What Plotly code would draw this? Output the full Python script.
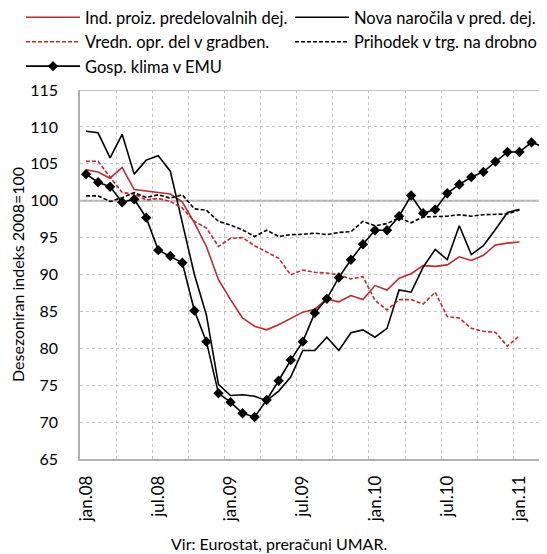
import plotly.graph_objects as go

months = [
    "jan.08", "feb.08", "mar.08", "apr.08", "maj.08", "jun.08", "jul.08", "avg.08", "sep.08", "okt.08", "nov.08", "dec.08",
    "jan.09", "feb.09", "mar.09", "apr.09", "maj.09", "jun.09", "jul.09", "avg.09", "sep.09", "okt.09", "nov.09", "dec.09",
    "jan.10", "feb.10", "mar.10", "apr.10", "maj.10", "jun.10", "jul.10", "avg.10", "sep.10", "okt.10", "nov.10", "dec.10",
    "jan.11", "feb.11", "mar.11",
]
tick_labels = ["jan.08", "jul.08", "jan.09", "jul.09", "jan.10", "jul.10", "jan.11"]

ind_proiz = [104.2, 103.9, 103.05, 104.5, 101.5, 101.3, 101.1, 100.9, 99.8, 97.0, 93.8, 89.3,
             86.6, 84.1, 83.0, 82.5, 83.2, 84.1, 84.9, 85.3, 86.7, 86.3, 87.15, 86.6,
             88.5, 87.9, 89.5, 90.1, 91.2, 91.1, 91.3, 92.4, 91.9, 92.6, 94.0, 94.25, 94.4]
nova_narocila = [109.4, 109.2, 105.8, 109.0, 103.6, 105.5, 106.1, 104.0, 97.0, 90.0, 84.5, 75.1,
                 73.6, 73.7, 73.5, 72.9, 74.2, 76.1, 79.7, 79.7, 81.5, 79.7, 82.1, 82.5,
                 81.5, 82.7, 87.9, 87.6, 91.0, 93.4, 92.0, 96.6, 92.7, 93.9, 96.1, 98.4, 98.85]
vredn_gradben = [105.35, 105.35, 103.2, 101.1, 100.9, 100.1, 100.3, 99.9, 99.0, 97.2, 96.3, 93.8,
                 94.9, 95.0, 93.9, 93.0, 92.2, 89.95, 90.6, 90.3, 90.2, 89.95, 89.4, 89.7,
                 86.5, 85.2, 86.6, 86.6, 86.0, 87.6, 84.3, 84.1, 82.7, 82.3, 82.15, 80.3, 81.7]
prihodek_drobno = [100.65, 100.65, 99.9, 100.4, 101.1, 100.45, 100.8, 100.35, 100.8, 98.9, 98.7, 97.2,
                   96.7, 96.05, 95.15, 96.0, 95.15, 95.4, 95.45, 95.6, 95.4, 95.7, 95.8, 97.2,
                   96.6, 96.9, 97.7, 97.0, 97.8, 97.85, 97.9, 98.1, 97.9, 98.1, 98.2, 98.2, 98.75]
gosp_klima = [103.6, 102.5, 101.9, 99.8, 100.2, 97.7, 93.3, 92.5, 91.6, 85.1, 80.9, 73.9,
              72.7, 71.2, 70.7, 73.0, 75.6, 78.4, 80.9, 84.8, 86.7, 89.6, 92.0, 94.1,
              96.0, 96.0, 97.9, 100.7, 98.3, 98.8, 101.0, 102.2, 103.2, 103.9, 105.3, 106.6,
              106.6, 107.9, 107.3]

RED = "#BE2A2E"
FONT = "Lato"
FS = 17

def xs(vals):
    return list(range(len(vals)))

fig = go.Figure()
fig.add_trace(go.Scatter(x=xs(ind_proiz), y=ind_proiz, mode="lines", name="Ind. proiz. predelovalnih dej.",
                         line=dict(color=RED, width=1.6), text=months[:len(ind_proiz)]))
fig.add_trace(go.Scatter(x=xs(nova_narocila), y=nova_narocila, mode="lines", name="Nova naročila v pred. dej.",
                         line=dict(color="#000000", width=1.6), text=months[:len(nova_narocila)]))
fig.add_trace(go.Scatter(x=xs(vredn_gradben), y=vredn_gradben, mode="lines", name="Vredn. opr. del v gradben.",
                         line=dict(color=RED, width=1.6, dash="4px,2px"), text=months[:len(vredn_gradben)]))
fig.add_trace(go.Scatter(x=xs(prihodek_drobno), y=prihodek_drobno, mode="lines", name="Prihodek v trg. na drobno",
                         line=dict(color="#000000", width=1.6, dash="4px,2px"), text=months[:len(prihodek_drobno)]))
fig.add_trace(go.Scatter(x=xs(gosp_klima), y=gosp_klima, mode="lines+markers", name="Gosp. klima v EMU",
                         line=dict(color="#000000", width=1.6),
                         marker=dict(symbol="diamond", size=8, color="#000000"), text=months[:len(gosp_klima)]))

tickvals = [months.index(t) for t in tick_labels]

fig.update_layout(
    width=547, height=554,
    margin=dict(l=72, r=0, t=82, b=103, autoexpand=False),
    paper_bgcolor="white", plot_bgcolor="white",
    font=dict(family=FONT, size=FS, color="#000000"),
    showlegend=True,
    legend=dict(orientation="h", x=-0.1242, y=1.2439, xanchor="left", yanchor="top",
                entrywidth=200, entrywidthmode="pixels", itemwidth=54,
                font=dict(family=FONT, size=16.5), bgcolor="rgba(0,0,0,0)"),
    xaxis=dict(range=[-0.5, 38.95], tickmode="array", tickvals=tickvals, ticktext=tick_labels,
               tickangle=-90, showgrid=False, zeroline=False, showline=True, linecolor="#b0b0b0", linewidth=1.5,
               ticks="outside", ticklen=8, tickcolor="rgba(0,0,0,0)", automargin=False,
               minor=dict(tick0=2.5, dtick=3, showgrid=True, gridcolor="#c4c4c4", griddash="dot", gridwidth=1),
               tickfont=dict(family=FONT, size=FS)),
    yaxis=dict(range=[65, 115], dtick=5, showgrid=True, gridcolor="#c4c4c4", griddash="dot", gridwidth=1,
               zeroline=False, showline=True, linecolor="#b0b0b0", linewidth=1.5, mirror=False,
               ticks="outside", ticklen=17, tickcolor="rgba(0,0,0,0)", automargin=False,
               tickfont=dict(family=FONT, size=16)),
    shapes=[
        dict(type="line", xref="paper", yref="y", x0=0, x1=1, y0=100, y1=100,
             line=dict(color="#b0b0b0", width=2), layer="below"),
        dict(type="line", xref="paper", yref="y", x0=0, x1=1, y0=115, y1=115,
             line=dict(color="#b0b0b0", width=1.5), layer="below"),
    ],
    annotations=[
        dict(text="Desezoniran indeks 2008=100", xref="paper", yref="paper", x=-0.1316, y=0.5,
             xanchor="center", yanchor="middle", textangle=-90, showarrow=False, font=dict(family=FONT, size=16)),
        dict(text="Vir: Eurostat, preračuni UMAR.", xref="paper", yref="paper", x=0.419, y=-0.230,
             xanchor="center", yanchor="middle", showarrow=False, font=dict(family=FONT, size=16)),
    ],
)

fig.write_html("out.html")
